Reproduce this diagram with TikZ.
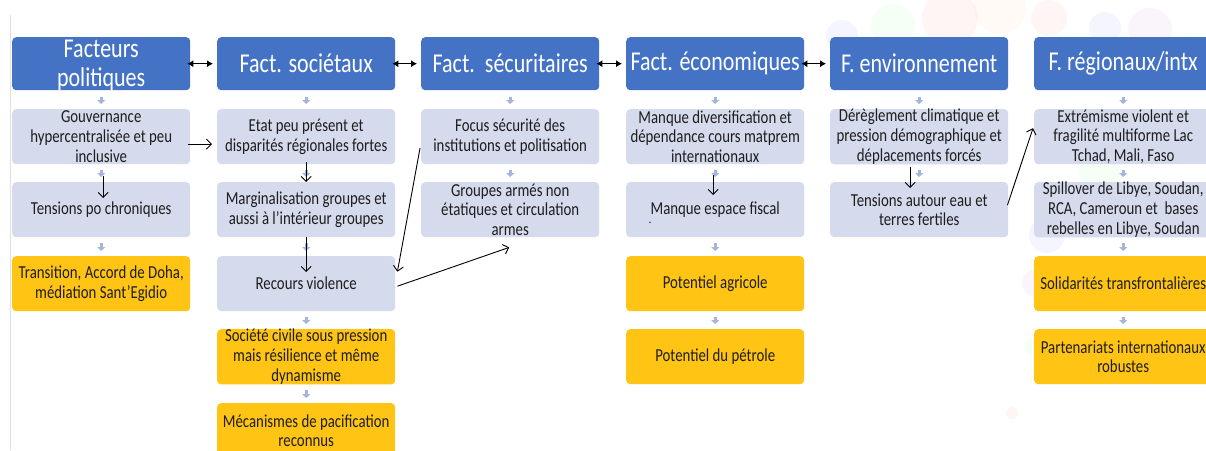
\documentclass[tikz,border=0pt]{standalone}
\usepackage{fontspec}
\setmainfont{Carlito}[FakeStretch=0.81]
\usetikzlibrary{arrows.meta}
\definecolor{hdrblue}{HTML}{4472C4}
\definecolor{paleblue}{HTML}{D5DAEC}
\definecolor{amber}{HTML}{FFC414}
\definecolor{stepblue}{HTML}{A7B4DC}
\definecolor{inkdark}{HTML}{1E1E1E}
\tikzset{
  hdr/.style={fill=hdrblue, rounded corners=4pt, minimum width=178pt, minimum height=53pt,
    inner sep=0pt, text=white, align=center, font=\fontsize{27.2}{29}\selectfont, anchor=north west},
  pale/.style={fill=paleblue, rounded corners=4pt, minimum width=178pt, minimum height=55pt,
    inner sep=0pt, text=inkdark, align=center, font=\fontsize{18.3}{19.8}\selectfont, anchor=north west},
  gold/.style={pale, fill=amber},
  steparrow/.style={draw=stepblue, line width=3.2pt, -{Triangle[width=8pt,length=4pt]},
    shorten <=5.5pt, shorten >=5pt},
  hdrstep/.style={steparrow, shorten <=7pt},
  link/.style={draw=black, line width=0.9pt, -{Straight Barb[length=5pt,width=10pt,line width=0.9pt]}},
  twoway/.style={draw=black, line width=0.9pt, {Latex[length=6pt,width=7pt]}-{Latex[length=6pt,width=7pt]}},
  blob/.style={fill=#1, fill opacity=0.04, draw=none}
}
\begin{document}
\begin{tikzpicture}[x=1pt,y=-1pt]
\useasboundingbox (0,0) rectangle (1206,450);
\clip (0,0) rectangle (1206,450);
\fill[white] (0,0) rectangle (1206,450);

% faint decorative circles behind the right-hand columns
\path[blob=blue]   (842,36) circle (16);
\path[blob=green]  (893,26) circle (22);
\path[blob=red]    (950,18) circle (28);
\path[blob=orange] (1000,8) circle (26);
\path[blob=red]    (1049,18) circle (18);
\path[blob=blue]   (1105,28) circle (16);
\path[blob=violet] (1150,30) circle (22);
\path[blob=green]  (1099,172) circle (20);
\path[blob=blue]   (1047,235) circle (18);
\path[blob=violet] (1036,283) circle (14);
\path[blob=green]  (1033,347) circle (9);
\path[blob=red]    (1012,413) circle (6);

% thin left margin rule
\draw[black!12, line width=0.6pt] (10,15) -- (10,450);

% column headers
\node[hdr, text depth=0pt] (h1) at (12,37) {Facteurs\\politiques};
\node[hdr] (h2) at (217,37)  {Fact. sociétaux};
\node[hdr] (h3) at (421,37)  {Fact.\ \ sécuritaires};
\node[hdr] (h4) at (626,37)  {Fact. économiques};
\node[hdr] (h5) at (830,37)  {F. environnement};
\node[hdr] (h6) at (1034,37) {F. régionaux/intx};

% political factors
\node[pale] (p12) at (12,109) {Gouvernance\\hypercentralisée et peu\\inclusive};
\node[pale] (p13) at (12,182) {Tensions po chroniques};
\node[gold] (p14) at (12,256) {Transition, Accord de Doha,\\médiation Sant'Egidio};

% societal factors
\node[pale] (p22) at (217,109) {Etat peu présent et\\disparités régionales fortes};
\node[pale] (p23) at (217,182) {Marginalisation groupes et\\aussi à l'intérieur groupes};
\node[pale] (p24) at (217,256) {Recours violence};
\node[gold] (p25) at (217,329) {Société civile sous pression\\mais résilience et même\\dynamisme};
\node[gold] (p26) at (217,403) {Mécanismes de pacification\\reconnus};

% security factors
\node[pale] (p32) at (421,109) {Focus sécurité des\\institutions et politisation};
\node[pale] (p33) at (421,182) {Groupes armés non\\étatiques et circulation\\armes};

% economic factors
\node[pale] (p42) at (626,109) {Manque diversification et\\dépendance cours matprem\\internationaux};
\node[pale] (p43) at (626,182) {Manque espace fiscal};
\node[font=\fontsize{12}{12}\selectfont, inner sep=0pt] (dot) at (650,223) {.};
\node[gold] (p44) at (626,256) {Potentiel agricole};
\node[gold] (p45) at (626,329) {Potentiel du pétrole};

% environmental factors
\node[pale] (p52) at (830,109) {Dérèglement climatique et\\pression démographique et\\déplacements forcés};
\node[pale] (p53) at (830,182) {Tensions autour eau et\\terres fertiles};

% regional / international factors
\node[pale] (p62) at (1034,109) {Extrémisme violent et\\fragilité multiforme Lac\\Tchad, Mali, Faso};
\node[pale] (p63) at (1034,182) {Spillover de Libye, Soudan,\\RCA, Cameroun et\ \ bases\\rebelles en Libye, Soudan};
\node[gold] (p64) at (1034,256) {Solidarités transfrontalières};
\node[gold] (p65) at (1034,329) {Partenariats internationaux\\robustes};

% column flow markers
\draw[hdrstep] (h1.south) -- (p12.north);
\draw[steparrow] (p12.south) -- (p13.north);
\draw[steparrow] (p13.south) -- (p14.north);
\draw[hdrstep] (h2.south) -- (p22.north);
\draw[steparrow] (p22.south) -- (p23.north);
\draw[steparrow] (p23.south) -- (p24.north);
\draw[steparrow] (p24.south) -- (p25.north);
\draw[steparrow] (p25.south) -- (p26.north);
\draw[hdrstep] (h3.south) -- (p32.north);
\draw[steparrow] (p32.south) -- (p33.north);
\draw[hdrstep] (h4.south) -- (p42.north);
\draw[steparrow] (p42.south) -- (p43.north);
\draw[steparrow] (p43.south) -- (p44.north);
\draw[steparrow] (p44.south) -- (p45.north);
\draw[hdrstep] (h5.south) -- (p52.north);
\draw[steparrow] (p52.south) -- (p53.north);
\draw[hdrstep] (h6.south) -- (p62.north);
\draw[steparrow] (p62.south) -- (p63.north);
\draw[steparrow] (p63.south) -- (p64.north);
\draw[steparrow] (p64.south) -- (p65.north);

% links between headers
\draw[twoway] ([xshift=-3pt]h1.east) -- ([xshift=-4pt]h2.west);
\draw[twoway] ([xshift=-3pt]h2.east) -- ([xshift=-4pt]h3.west);
\draw[twoway] ([xshift=-3pt]h3.east) -- ([xshift=-4pt]h4.west);
\draw[twoway] ([xshift=-3pt]h4.east) -- ([xshift=-4pt]h5.west);

% causal links
\draw[link] ([xshift=-2pt,yshift=-7.5pt]p12.east) -- ([xshift=-5pt,yshift=-7.5pt]p22.west);
\draw[link] ([xshift=2pt,yshift=-12pt]p12.south) -- ([xshift=2pt,yshift=-16pt]p13.north);
\draw[link] ([yshift=2pt]p22.south) -- (p23.north);
\draw[link] (p23.south) -- ([yshift=-16pt]p24.north);
\draw[link] ([xshift=-1pt,yshift=-11.5pt]p32.west) -- ([xshift=2pt,yshift=12pt]p24.east);
\draw[link] ([xshift=2pt,yshift=-2.5pt]p24.east) -- ([xshift=-1pt,yshift=-10pt]p33.south);
\draw[link] ([xshift=-2pt,yshift=-11pt]p42.south) -- ([xshift=-2pt,yshift=-13pt]p43.north);
\draw[link] ([xshift=-9pt,yshift=-2pt]p52.south) -- ([xshift=-9pt,yshift=-6pt]p53.north);
\draw[link] ([xshift=-1pt,yshift=4.5pt]p53.east) -- ([xshift=-1pt,yshift=8.5pt]p62.west);
\end{tikzpicture}
\end{document}
